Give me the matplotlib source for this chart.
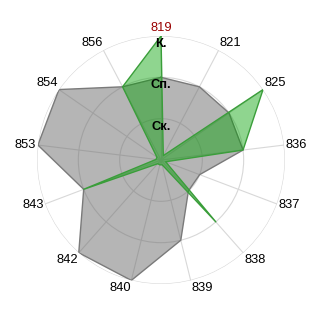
import numpy as np
import matplotlib
matplotlib.use('Agg')
import matplotlib.pyplot as plt

plt.rcParams['font.family'] = ['Liberation Sans', 'DejaVu Sans']

# categories around the radar, clockwise from the top
cats  = ['819', '821', '825', '836', '837', '838', '839', '840', '842', '843', '853', '854', '856']
gray  = [2, 2, 2, 2, 1, 1, 2, 3, 3, 2, 3, 3, 2]
green = [3, 0.12, 3, 2, 0.12, 2, 0.12, 0.12, 0.12, 2, 0.12, 0.12, 2]
levels = ['Ск.', 'Сп.', 'К.']

n = len(cats)
theta = np.arange(n) * 2 * np.pi / n

fig = plt.figure(figsize=(3.2, 3.2), dpi=100)
ax = fig.add_axes([0.1156, 0.1125, 0.775, 0.775], projection='polar')
ax.set_theta_offset(np.pi / 2)
ax.set_theta_direction(-1)
ax.set_ylim(0, 3)

tc = np.append(theta, theta[0])
g1 = np.append(gray, gray[0])
g2 = np.append(green, green[0])
ax.fill(tc, g1, color='#6c6c6c', alpha=0.5, lw=0, zorder=2)
ax.plot(tc, g1, color='#7a7a7a', lw=1, zorder=3)
ax.fill(tc, g2, color='#00a000', alpha=0.44, lw=0, zorder=4)
ax.plot(tc, g2, color='#3a9e3a', lw=1, zorder=5)

ax.set_xticks(theta)
ax.set_xticklabels([])
ax.set_yticks([1, 2, 3])
ax.set_yticklabels([])
ax.grid(True, color='#d8d8d8', lw=0.8)
ax.spines['polar'].set_visible(False)

# category labels just outside the outer ring
for t, c in zip(theta, cats):
    a = np.pi / 2 - t
    cs, sn = np.cos(a), np.sin(a)
    ha = 'left' if cs > 0.1 else ('right' if cs < -0.1 else 'center')
    va = 'bottom' if sn > 0.4 else ('top' if sn < -0.4 else 'center')
    col = '#990000' if c == '819' else 'black'
    ax.text(t, 3.04, c, ha=ha, va=va, fontsize=9.3, color=col, zorder=10)

# level labels on the 819 axis
for i, lab in enumerate(levels):
    ax.text(0, i + 0.95, lab, ha='center', va='top', fontsize=9.3,
            fontweight='bold', color='black', zorder=10)

plt.savefig('out.png', dpi=100)
